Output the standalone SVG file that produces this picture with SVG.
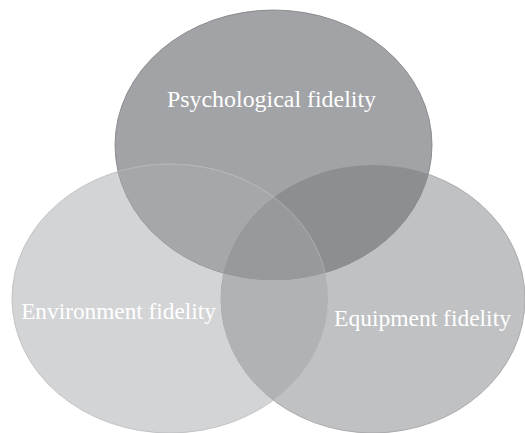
<svg xmlns="http://www.w3.org/2000/svg" width="525" height="433" viewBox="0 0 525 433">
<style>
.lbl{font-family:"Liberation Serif","Times New Roman",serif;fill:#ffffff;text-anchor:middle}
</style>
<defs>
<clipPath id="cT"><ellipse cx="273.5" cy="145" rx="158.5" ry="135"/></clipPath>
<clipPath id="cL"><ellipse cx="170" cy="298.5" rx="158" ry="134.5"/></clipPath>
<clipPath id="cR"><ellipse cx="373" cy="299" rx="152" ry="134"/></clipPath>
</defs>
<rect width="525" height="433" fill="#ffffff"/>
<g id="environment">
<ellipse cx="170" cy="298.5" rx="158" ry="134.5" fill="#d3d4d6" stroke="#b9babd" stroke-width="0.8"/>
</g>
<g id="equipment">
<ellipse cx="373" cy="299" rx="152" ry="134" fill="#c0c1c3" stroke="#9fa0a3" stroke-width="0.8"/>
</g>
<g id="psychological">
<ellipse cx="273.5" cy="145" rx="158.5" ry="135" fill="#a2a3a7" stroke="#7c7d80" stroke-width="0.8"/>
</g>
<g id="overlaps">
<g clip-path="url(#cL)"><ellipse cx="373" cy="299" rx="152" ry="134" fill="#b1b2b5"/></g>
<g clip-path="url(#cT)"><ellipse cx="170" cy="298.5" rx="158" ry="134.5" fill="#a6a7aa" stroke="#bcbdc0" stroke-width="0.8"/></g>
<g clip-path="url(#cT)"><ellipse cx="373" cy="299" rx="152" ry="134" fill="#8d8e92"/></g>
<g clip-path="url(#cT)"><g clip-path="url(#cL)"><ellipse cx="373" cy="299" rx="152" ry="134" fill="#98999d"/></g></g>
<g clip-path="url(#cT)"><ellipse cx="170" cy="298.5" rx="158" ry="134.5" fill="none" stroke="#b4b5b8" stroke-width="0.8"/></g>
</g>
<g id="labels">
<text class="lbl" x="271.5" y="107" font-size="23.9">Psychological fidelity</text>
<text class="lbl" x="118.5" y="318.5" font-size="23.3">Environment fidelity</text>
<text class="lbl" x="422.5" y="325.5" font-size="23.5">Equipment fidelity</text>
</g>
</svg>
